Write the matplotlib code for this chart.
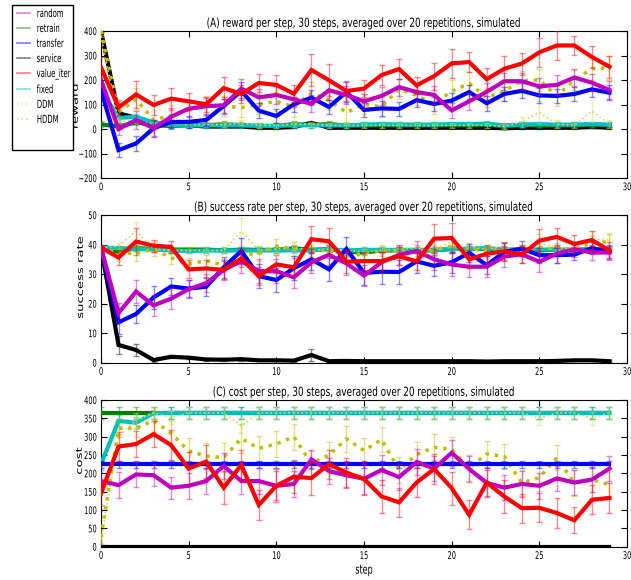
import matplotlib
matplotlib.use("Agg")
import matplotlib.pyplot as plt
from matplotlib.lines import Line2D
from matplotlib.patches import Rectangle
from matplotlib.patheffects import AbstractPathEffect
from matplotlib.transforms import Affine2D

plt.rcParams['font.family'] = ['DejaVu Sans']

steps = list(range(30))
series = ['random', 'retrain', 'transfer', 'service', 'value_iter', 'fixed', 'DDM', 'HDDM']

# ---------------- (A) reward ----------------
reward_random = [200, 0, 37, 3, 50, 83, 93, 97, 165, 129, 139, 121, 103, 158, 139, 113, 135, 171, 151, 139, 76, 113, 152, 195, 195, 174, 180, 210, 189, 159]
reward_retrain = [19, 10, 27, 16, 12, 15, 16, 19, 16, 12, 12, 20, 16, 20, 14, 15, 17, 15, 16, 15, 17, 16, 18, 10, 18, 15, 16, 15, 18, 16]
reward_transfer = [159, -86, -59, 3, 29, 29, 37, 94, 155, 75, 53, 101, 128, 90, 151, 78, 84, 82, 118, 102, 116, 151, 105, 143, 156, 137, 135, 143, 162, 148]
reward_service = [400, 64, 46, 15, 20, 15, 10, 10, 10, 5, 5, 8, 25, 5, 5, 5, 5, 5, 5, 5, 5, 5, 5, 3, 5, 5, 5, 5, 8, 5]
reward_value_iter = [252, 88, 141, 98, 124, 113, 101, 167, 143, 188, 180, 144, 241, 199, 155, 165, 220, 245, 178, 216, 268, 273, 203, 246, 267, 313, 341, 341, 294, 254]
reward_fixed = [163, 45, 50, 27, 16, 14, 15, 15, 15, 13, 13, 15, 15, 15, 15, 18, 20, 18, 18, 18, 20, 20, 22, 15, 18, 20, 18, 18, 20, 18]
reward_DDM = [380, 30, 35, 20, 25, 18, 18, 18, 25, 15, 15, 20, 20, 15, 15, 15, 15, 15, 15, 15, 15, 15, 15, 10, 30, 68, 20, 15, 73, 20]
reward_HDDM = [400, 70, 121, 37, 56, 78, 93, 94, 87, 101, 113, 91, 147, 118, 67, 101, 91, 163, 137, 102, 154, 186, 128, 156, 197, 200, 135, 200, 246, 250]

reward_err_random = [30, 25, 35, 30, 35, 35, 35, 35, 40, 35, 35, 30, 35, 40, 35, 30, 35, 35, 35, 35, 30, 35, 35, 35, 35, 35, 40, 35, 35, 35]
reward_err_retrain = [12, 12, 12, 12, 12, 12, 12, 12, 12, 12, 12, 12, 12, 12, 12, 12, 12, 12, 12, 12, 12, 12, 12, 12, 12, 12, 12, 12, 12, 12]
reward_err_transfer = [30, 30, 30, 35, 25, 25, 25, 30, 35, 30, 30, 30, 30, 30, 40, 30, 30, 30, 30, 30, 30, 30, 30, 30, 30, 30, 30, 30, 30, 30]
reward_err_service = [3, 5, 5, 5, 3, 3, 3, 3, 3, 3, 3, 3, 5, 3, 3, 3, 3, 3, 3, 3, 3, 3, 3, 3, 3, 3, 3, 3, 3, 3]
reward_err_value_iter = [40, 30, 55, 40, 45, 35, 30, 45, 35, 35, 40, 35, 65, 65, 40, 35, 40, 40, 35, 55, 60, 40, 45, 50, 45, 60, 60, 40, 45, 45]
reward_err_fixed = [10, 10, 10, 10, 10, 10, 10, 10, 10, 10, 10, 10, 10, 10, 10, 10, 10, 10, 10, 10, 10, 10, 10, 10, 10, 10, 10, 10, 10, 10]
reward_err_DDM = [5, 10, 10, 10, 10, 10, 10, 10, 10, 10, 10, 10, 10, 10, 10, 10, 10, 10, 10, 10, 10, 10, 10, 10, 20, 45, 15, 10, 45, 15]
reward_err_HDDM = [5, 40, 45, 40, 40, 40, 40, 40, 40, 40, 40, 40, 45, 40, 40, 40, 40, 40, 40, 40, 45, 45, 40, 40, 40, 45, 40, 40, 45, 50]

# ---------------- (B) success rate ----------------
success_random = [39, 16.8, 24.1, 19.4, 21.7, 24.9, 26.9, 31.4, 34.4, 31, 31, 28.9, 34, 36.5, 33.6, 29.5, 34, 36.5, 37.8, 35, 33.2, 32.5, 32.5, 35.9, 36.7, 34.2, 36.9, 38.4, 37.3, 37.3]
success_retrain = [39, 37.5, 38.8, 38.5, 38.3, 38.3, 38.3, 38, 38.3, 38.2, 38.2, 38.7, 38.2, 38.5, 37.5, 37.3, 38, 38, 38, 38, 38.5, 38.5, 38.5, 38, 38.3, 38, 38.3, 38, 38.5, 38]
success_transfer = [39, 13.7, 16.5, 22.1, 25.8, 25.1, 25.7, 32.3, 37.8, 29.3, 28, 32, 35, 31.6, 38.5, 30.4, 30.8, 30.7, 34.3, 32.8, 34, 37.2, 33, 37.5, 38.6, 36.4, 36.4, 36.6, 38.8, 37.5]
success_service = [39, 6, 4.3, 0.9, 2, 1.7, 1.1, 1, 1.2, 0.8, 0.8, 0.7, 2.6, 0.5, 0.6, 0.5, 0.5, 0.5, 0.5, 0.5, 0.5, 0.5, 0.4, 0.5, 0.5, 0.5, 0.6, 0.8, 0.8, 0.5]
success_value_iter = [39, 35.6, 41, 39.6, 39.2, 31.6, 31.9, 31.4, 35.3, 29.3, 33.3, 32.3, 41.8, 41.1, 34.2, 34.4, 34.4, 36, 34.3, 42, 42.2, 35, 36.9, 37.7, 36.6, 41.3, 42.6, 40.2, 41.5, 38]
success_fixed = [39, 38.8, 38.5, 38.3, 38, 37.8, 38, 38, 38, 38, 38, 38, 38, 38.5, 38, 38.2, 38.2, 38.2, 38.2, 38.2, 38.5, 38.5, 38.8, 38.3, 38.5, 38.3, 38.3, 38.3, 38.5, 38.3]
success_DDM = [39, 39.5, 44.5, 38.5, 38, 38, 38, 38, 44.5, 38, 38.5, 39, 38, 38.5, 38, 37.5, 38, 38.5, 39, 38, 41, 39, 38.5, 39.5, 37, 40.5, 39, 38.5, 42, 41.5]
success_HDDM = [39, 37, 37, 38.5, 35.5, 33.5, 34.5, 33, 36.5, 37, 39.5, 38.5, 38, 38, 36, 37, 38, 38, 38, 38, 39.5, 38.5, 38, 38.5, 38, 39, 38.5, 38.5, 40.5, 41]

success_err_random = [0.5, 3.5, 4, 3.5, 3.5, 3, 3, 3.5, 4, 4, 4, 3.5, 3.5, 3.5, 4, 3.5, 3.5, 3.5, 3.5, 3.5, 4, 3.5, 3.5, 3.5, 3, 3.5, 3, 2.5, 2.5, 2.5]
success_err_retrain = [0.5, 1, 1, 1, 1, 1, 1, 1, 1, 1, 1, 1, 1, 1, 1, 1, 1, 1, 1, 1, 1, 1, 1, 1, 1, 1, 1, 1, 1, 1]
success_err_transfer = [0.5, 4, 3, 4, 3, 3, 3, 3.5, 4.5, 4, 4, 4, 3.5, 4, 4, 4, 4, 4, 4, 3.5, 3.5, 3, 3, 3, 2.5, 2.5, 2.5, 2, 2, 2]
success_err_service = [0.3, 3, 2, 0.5, 0.5, 0.5, 0.5, 0.5, 0.5, 0.3, 0.3, 0.3, 2, 0.3, 0.3, 0.3, 0.3, 0.3, 0.3, 0.3, 0.3, 0.3, 0.3, 0.3, 0.3, 0.3, 0.3, 0.3, 0.3, 0.3]
success_err_value_iter = [0.5, 2.5, 4.5, 2, 2, 3, 3, 3, 3, 3, 3, 3, 4.5, 4.5, 4, 3, 3, 3, 3, 5, 5, 3, 3, 3, 3, 4, 3, 3, 3, 3]
success_err_fixed = [0.5, 0.8, 0.8, 0.8, 0.8, 0.8, 0.8, 0.8, 0.8, 0.8, 0.8, 0.8, 0.8, 0.8, 0.8, 0.8, 0.8, 0.8, 0.8, 0.8, 0.8, 0.8, 0.8, 0.8, 0.8, 0.8, 0.8, 0.8, 0.8, 0.8]
success_err_DDM = [0.5, 1, 3, 1, 1, 1, 1, 1, 4.5, 1, 1, 1, 1, 1, 1, 1, 1, 1, 1, 1, 2, 1, 1, 1, 1, 3, 1, 1, 2.5, 2.5]
success_err_HDDM = [0.5, 2.5, 2.5, 2.5, 2, 2, 2, 2, 2.5, 2.5, 2.5, 2.5, 2, 2, 2, 2, 2, 2, 2, 2, 2.5, 2, 2, 2, 2, 2.5, 2, 2, 2.5, 2.5]

# ---------------- (C) cost ----------------
cost_random = [179, 168, 197, 195, 161, 166, 179, 220, 179, 179, 166, 171, 238, 206, 195, 185, 209, 190, 231, 213, 256, 212, 174, 161, 171, 166, 186, 175, 183, 213]
cost_retrain = [365, 365, 365, 365, 365, 365, 365, 365, 365, 365, 365, 365, 365, 365, 365, 365, 365, 365, 365, 365, 365, 365, 365, 365, 365, 365, 365, 365, 365, 365]
cost_transfer = [225, 225, 225, 225, 225, 225, 225, 225, 225, 225, 225, 225, 225, 225, 225, 225, 225, 225, 225, 225, 225, 225, 225, 225, 225, 225, 225, 225, 225, 225]
cost_service = [0, 0, 0, 0, 0, 0, 0, 0, 0, 0, 0, 0, 0, 0, 0, 0, 0, 0, 0, 0, 0, 0, 0, 0, 0, 0, 0, 0, 0, 0]
cost_value_iter = [145, 273, 280, 307, 277, 213, 232, 161, 223, 114, 166, 191, 187, 225, 202, 185, 137, 121, 175, 212, 160, 87, 175, 137, 105, 106, 92, 72, 128, 133]
cost_fixed = [225, 343, 338, 364, 365, 365, 365, 365, 365, 365, 365, 365, 365, 365, 365, 365, 365, 365, 365, 365, 365, 365, 365, 365, 365, 365, 365, 365, 365, 365]
cost_DDM = [20, 300, 345, 365, 352, 365, 365, 365, 330, 365, 365, 365, 365, 365, 365, 365, 365, 365, 365, 365, 365, 365, 365, 365, 365, 350, 365, 365, 350, 365]
cost_HDDM = [27, 323, 323, 344, 309, 261, 247, 243, 295, 268, 280, 300, 227, 250, 294, 262, 292, 210, 251, 271, 265, 215, 253, 246, 174, 188, 243, 174, 183, 169]

cost_err_random = [30, 35, 35, 30, 30, 35, 35, 35, 35, 35, 40, 35, 25, 35, 35, 40, 40, 35, 35, 35, 35, 35, 35, 35, 35, 35, 35, 35, 35, 35]
cost_err_retrain = [17, 17, 17, 17, 17, 17, 17, 17, 17, 17, 17, 17, 17, 17, 17, 17, 17, 17, 17, 17, 17, 17, 17, 17, 17, 17, 17, 17, 17, 17]
cost_err_transfer = [10, 10, 10, 10, 10, 10, 10, 10, 10, 10, 10, 10, 10, 10, 10, 10, 10, 10, 10, 10, 10, 10, 10, 10, 10, 10, 10, 10, 10, 10]
cost_err_service = [0, 0, 0, 0, 0, 0, 0, 0, 0, 0, 0, 0, 0, 0, 0, 0, 0, 0, 0, 0, 0, 0, 0, 0, 0, 0, 0, 0, 0, 0]
cost_err_value_iter = [30, 40, 35, 35, 40, 45, 45, 45, 40, 40, 45, 45, 45, 40, 40, 45, 45, 40, 40, 40, 45, 40, 40, 45, 40, 40, 40, 35, 40, 40]
cost_err_fixed = [10, 17, 17, 17, 17, 17, 17, 17, 17, 17, 17, 17, 17, 17, 17, 17, 17, 17, 17, 17, 17, 17, 17, 17, 17, 17, 17, 17, 17, 17]
cost_err_DDM = [10, 20, 20, 17, 17, 17, 17, 17, 20, 17, 17, 17, 17, 17, 17, 17, 17, 17, 17, 17, 17, 17, 17, 17, 17, 17, 17, 17, 17, 17]
cost_err_HDDM = [20, 25, 25, 30, 35, 35, 35, 40, 40, 35, 35, 35, 35, 35, 35, 35, 35, 35, 35, 35, 35, 35, 35, 35, 35, 35, 35, 35, 35, 35]

panels = [
    ("(A) reward per step, 30 steps, averaged over 20 repetitions, simulated", "reward",
     dict(random=reward_random, retrain=reward_retrain, transfer=reward_transfer, service=reward_service,
          value_iter=reward_value_iter, fixed=reward_fixed, DDM=reward_DDM, HDDM=reward_HDDM),
     dict(random=reward_err_random, retrain=reward_err_retrain, transfer=reward_err_transfer, service=reward_err_service,
          value_iter=reward_err_value_iter, fixed=reward_err_fixed, DDM=reward_err_DDM, HDDM=reward_err_HDDM),
     (-200, 400), [-200, -100, 0, 100, 200, 300, 400]),
    ("(B) success rate per step, 30 steps, averaged over 20 repetitions, simulated", "success rate",
     dict(random=success_random, retrain=success_retrain, transfer=success_transfer, service=success_service,
          value_iter=success_value_iter, fixed=success_fixed, DDM=success_DDM, HDDM=success_HDDM),
     dict(random=success_err_random, retrain=success_err_retrain, transfer=success_err_transfer, service=success_err_service,
          value_iter=success_err_value_iter, fixed=success_err_fixed, DDM=success_err_DDM, HDDM=success_err_HDDM),
     (0, 50), [0, 10, 20, 30, 40, 50]),
    ("(C) cost per step, 30 steps, averaged over 20 repetitions, simulated", "cost",
     dict(random=cost_random, retrain=cost_retrain, transfer=cost_transfer, service=cost_service,
          value_iter=cost_value_iter, fixed=cost_fixed, DDM=cost_DDM, HDDM=cost_HDDM),
     dict(random=cost_err_random, retrain=cost_err_retrain, transfer=cost_err_transfer, service=cost_err_service,
          value_iter=cost_err_value_iter, fixed=cost_err_fixed, DDM=cost_err_DDM, HDDM=cost_err_HDDM),
     (0, 400), [0, 50, 100, 150, 200, 250, 300, 350, 400]),
]

styles = {
    'random': dict(color='#bf00bf', lw=3.0, ls='-'),
    'retrain': dict(color='#008000', lw=3.0, ls='-'),
    'transfer': dict(color='#0000ff', lw=3.0, ls='-'),
    'service': dict(color='#000000', lw=3.0, ls='-'),
    'value_iter': dict(color='#ff0000', lw=3.0, ls='-'),
    'fixed': dict(color='#00bfbf', lw=3.0, ls='-'),
    'DDM': dict(color='#d8d860', lw=1.2, ls=':'),
    'HDDM': dict(color='#bfbf00', lw=2.5, ls=':'),
}
order = ['service', 'retrain', 'fixed', 'DDM', 'HDDM', 'transfer', 'random', 'value_iter']


class Squash(AbstractPathEffect):
    """Horizontally condense rendered text glyphs (the reference's text is narrow)."""
    def __init__(self, sx, anchor='center'):
        super().__init__()
        self.sx = sx
        self.anchor = anchor

    def draw_path(self, renderer, gc, tpath, affine, rgbFace=None):
        try:
            ext = tpath.transformed(affine).get_extents()
            if self.anchor == 'left':
                cx = ext.x0
            elif self.anchor == 'right':
                cx = ext.x1
            else:
                cx = 0.5 * (ext.x0 + ext.x1)
        except Exception:
            cx = 0.0
        new = affine + Affine2D().translate(-cx, 0).scale(self.sx, 1).translate(cx, 0)
        renderer.draw_path(gc, tpath, new, rgbFace)


W, H = 631, 580
SX_TITLE = 0.71
SX = 0.64
fig = plt.figure(figsize=(W / 100, H / 100), dpi=100)
tops = [31, 215, 400]
bots = [178, 362.7, 546.7]
ylab_x = [76, 81, 80]
ylab_y = [0.49, 0.58, 0.585]
for i, (title, ylab, vals, errs, ylim, yt) in enumerate(panels):
    ax = fig.add_axes([101 / W, 1 - bots[i] / H, 526 / W, (bots[i] - tops[i]) / H])
    for z, s in enumerate(order):
        st = styles[s]
        ax.errorbar(steps, vals[s], yerr=errs[s], fmt='none', ecolor=st['color'], elinewidth=1,
                    capsize=2, alpha=0.45, zorder=2 + z)
        ax.plot(steps, vals[s], color=st['color'], lw=st['lw'], ls=st['ls'], zorder=3 + z,
                solid_joinstyle='miter')
    ax.set_xlim(0, 30)
    ax.set_ylim(*ylim)
    ax.set_yticks(yt)
    ax.set_xticks([0, 5, 10, 15, 20, 25, 30])
    ax.tick_params(direction='in', top=True, right=True, labelsize=7.5, length=4, pad=3)
    t = ax.set_title(title, fontsize=9, pad=3)
    t.set_path_effects([Squash(SX_TITLE, 'center')])
    yl = ax.set_ylabel(ylab, fontsize=9.5)
    yl.set_va('center')
    ax.yaxis.set_label_coords((ylab_x[i] - 101) / 526, ylab_y[i])
    yl.set_path_effects([Squash(SX, 'center')])
    for lab in ax.get_xticklabels():
        lab.set_path_effects([Squash(SX, 'center')])
    for lab in ax.get_yticklabels():
        lab.set_path_effects([Squash(SX, 'right')])
    if i == 2:
        xl = ax.set_xlabel('step', fontsize=9, labelpad=2)
        xl.set_path_effects([Squash(SX, 'center')])

# legend: frame drawn at the reference box position, entries inside
frame = Rectangle((12 / W, 1 - 150 / H), 61 / W, 145 / H, transform=fig.transFigure,
                  facecolor='white', edgecolor='black', lw=1.0, zorder=5)
fig.patches.append(frame)
handles = [Line2D([], [], color=styles[s]['color'], lw=1.2, ls=styles[s]['ls'], alpha=0.5) for s in series]
leg = fig.legend(handles, series, loc='upper left', bbox_to_anchor=(17 / W, 1 - 9 / H),
                 fontsize=8, frameon=False, handlelength=1.2, labelspacing=0.45,
                 borderpad=0, handletextpad=0.55, borderaxespad=0)
leg.set_zorder(6)
for txt in leg.get_texts():
    txt.set_path_effects([Squash(0.62, 'left')])

fig.savefig('out.png', dpi=100)
